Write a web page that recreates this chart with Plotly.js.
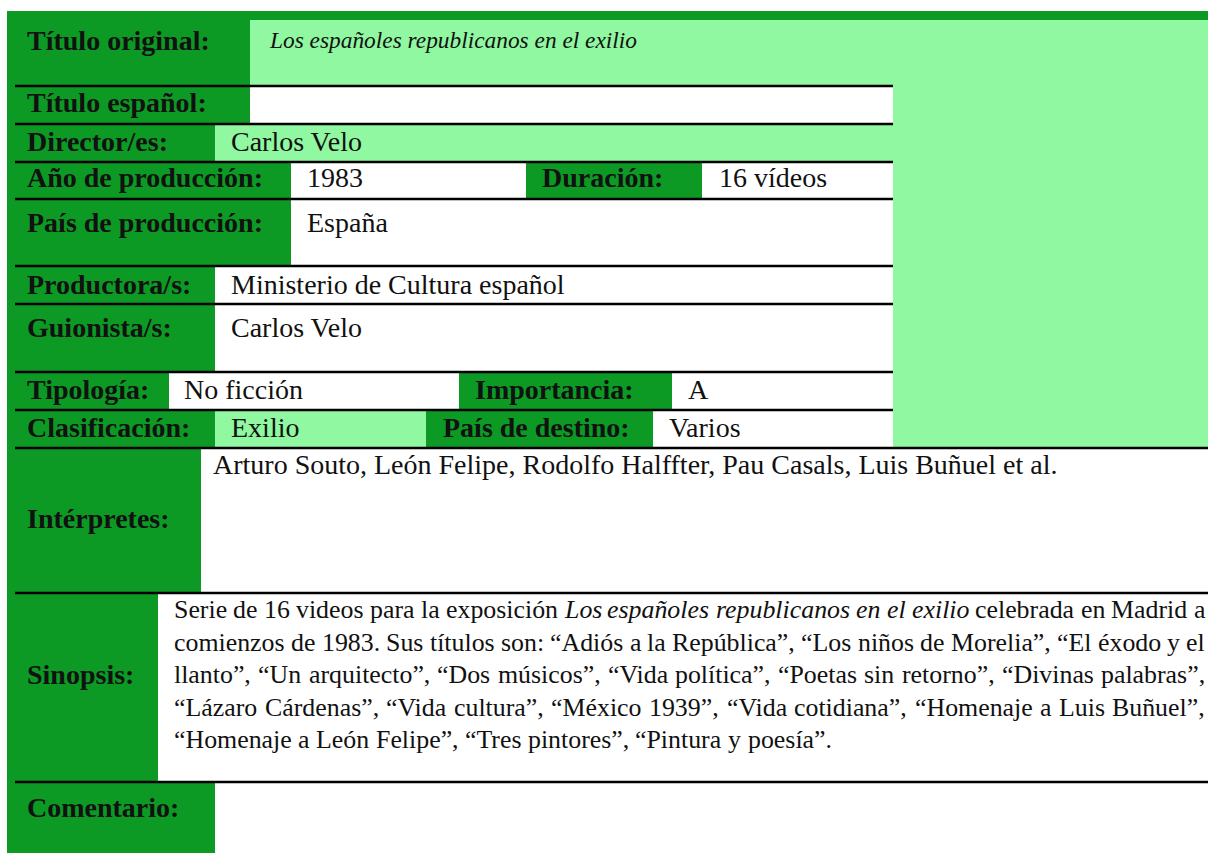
<!DOCTYPE html>
<html>
<head>
<meta charset="utf-8">
<script src="https://cdn.plot.ly/plotly-3.0.1.min.js"></script>
<style>
html, body { margin: 0; padding: 0; background: #ffffff; }
#chart { width: 1208px; height: 853px; }
</style>
</head>
<body>
<div id="chart"></div>
<script>
// ---------------- DATA ----------------
const fieldLabels = [
  'Título original:', 'Título español:', 'Director/es:', 'Año de producción:', 'Duración:',
  'País de producción:', 'Productora/s:', 'Guionista/s:', 'Tipología:', 'Importancia:',
  'Clasificación:', 'País de destino:', 'Intérpretes:', 'Sinopsis:', 'Comentario:'
];
const fieldValues = [
  'Los españoles republicanos en el exilio', '', 'Carlos Velo', '1983', '16 vídeos',
  'España', 'Ministerio de Cultura español', 'Carlos Velo', 'No ficción', 'A',
  'Exilio', 'Varios', 'Arturo Souto, León Felipe, Rodolfo Halffter, Pau Casals, Luis Buñuel et al.', '', ''
];
// synopsis lines as printed; words between _ _ are italic
const synopsisLines = [
  'Serie de 16 videos para la exposición _Los españoles republicanos en el exilio_ celebrada en Madrid a',
  'comienzos de 1983. Sus títulos son: “Adiós a la República”, “Los niños de Morelia”, “El éxodo y el',
  'llanto”, “Un arquitecto”, “Dos músicos”, “Vida política”, “Poetas sin retorno”, “Divinas palabras”,',
  '“Lázaro Cárdenas”, “Vida cultura”, “México 1939”, “Vida cotidiana”, “Homenaje a Luis Buñuel”,',
  '“Homenaje a León Felipe”, “Tres pintores”, “Pintura y poesía”.'
];

// ---------------- LAYOUT GEOMETRY (pixels on the axes) ----------------
const DARK = '#0c9a24', LIGHT = '#8ff8a0', WHITE = '#ffffff', INK = '#111111';
const FONT = 'Liberation Serif';
const W = 1208, H = 853;
// per field: label cell x0/x1, value cell x0/x1, row y0/y1, text y (label, value), text x (label, value), value fill
const cellGeom = [
  {lx0: 7,   lx1: 250, vx0: 250, vx1: 893,  y0: 20,  y1: 86,  ly: 40,    vy: 40,    ltx: 26,  vtx: 268, fill: LIGHT},
  {lx0: 7,   lx1: 250, vx0: 250, vx1: 893,  y0: 86,  y1: 124, ly: 102,   vy: 102,   ltx: 26,  vtx: 265, fill: WHITE},
  {lx0: 7,   lx1: 215, vx0: 215, vx1: 893,  y0: 124, y1: 162, ly: 141,   vy: 141,   ltx: 26,  vtx: 230, fill: LIGHT},
  {lx0: 7,   lx1: 291, vx0: 291, vx1: 526,  y0: 162, y1: 199, ly: 177.5, vy: 177.5, ltx: 26,  vtx: 306, fill: WHITE},
  {lx0: 526, lx1: 702, vx0: 702, vx1: 893,  y0: 162, y1: 199, ly: 177.5, vy: 177.5, ltx: 541, vtx: 718, fill: WHITE},
  {lx0: 7,   lx1: 291, vx0: 291, vx1: 893,  y0: 199, y1: 266, ly: 222,   vy: 222,   ltx: 26,  vtx: 306, fill: WHITE},
  {lx0: 7,   lx1: 215, vx0: 215, vx1: 893,  y0: 266, y1: 304, ly: 284,   vy: 284,   ltx: 26,  vtx: 230, fill: WHITE},
  {lx0: 7,   lx1: 215, vx0: 215, vx1: 893,  y0: 304, y1: 372, ly: 327,   vy: 327,   ltx: 26,  vtx: 230, fill: WHITE},
  {lx0: 7,   lx1: 169, vx0: 169, vx1: 459,  y0: 372, y1: 410, ly: 389,   vy: 389,   ltx: 26,  vtx: 183, fill: WHITE},
  {lx0: 459, lx1: 672, vx0: 672, vx1: 893,  y0: 372, y1: 410, ly: 389,   vy: 389,   ltx: 474, vtx: 687, fill: WHITE},
  {lx0: 7,   lx1: 215, vx0: 215, vx1: 426,  y0: 410, y1: 448, ly: 427.5, vy: 427.5, ltx: 26,  vtx: 230, fill: LIGHT},
  {lx0: 426, lx1: 653, vx0: 653, vx1: 893,  y0: 410, y1: 448, ly: 427.5, vy: 427.5, ltx: 442, vtx: 668, fill: WHITE},
  {lx0: 7,   lx1: 201, vx0: 201, vx1: 1208, y0: 448, y1: 593, ly: 518,   vy: 464,   ltx: 26,  vtx: 212, fill: WHITE},
  {lx0: 7,   lx1: 158, vx0: 158, vx1: 1208, y0: 593, y1: 782, ly: 674,   vy: 0,     ltx: 26,  vtx: 173, fill: WHITE},
  {lx0: 7,   lx1: 215, vx0: 215, vx1: 1208, y0: 782, y1: 853, ly: 807,   vy: 807,   ltx: 26,  vtx: 230, fill: WHITE}
];
const ruleYShort = [86, 124, 162, 199, 266, 304, 372, 410];
const ruleYLong = [448, 593, 782];
const synX0 = 173, synX1 = 1204;
const synY = [609.5, 642, 674.5, 707, 739.5];

// ---------------- TEXT MEASURE ----------------
const ctx = document.createElement('canvas').getContext('2d');
function tw(t, size, italic, bold) {
  ctx.font = (italic ? 'italic ' : 'normal ') + (bold ? 'bold ' : 'normal ') + size + 'px "' + FONT + '"';
  return ctx.measureText(t).width;
}

const shapes = [];
const annotations = [];
function rect(x0, x1, y0, y1, color) {
  shapes.push({type: 'rect', xref: 'x', yref: 'y', x0, x1, y0, y1, fillcolor: color, line: {width: 0}, layer: 'above'});
}
function rule(x0, x1, y) {
  shapes.push({type: 'line', xref: 'x', yref: 'y', x0, x1, y0: y, y1: y, line: {color: '#000000', width: 2.6}, layer: 'above'});
}
function txt(x, y, text, size) {
  annotations.push({x, y, xref: 'x', yref: 'y', text, showarrow: false, xanchor: 'left', yanchor: 'middle',
    borderpad: 0, font: {family: FONT, size, color: INK}});
}

// backgrounds
rect(7, W, 11, 448, DARK);
rect(893, W, 20, 448, LIGHT);
cellGeom.forEach((g, i) => {
  if (i >= 12) rect(g.lx0, g.lx1, g.y0, g.y1, DARK);
  rect(g.vx0, g.vx1, g.y0 + (i === 0 ? 0 : 1), g.y1 - 1, g.fill);
});
rect(7, 15, 448, H, DARK);
ruleYShort.forEach(y => rule(15, 893, y));
ruleYLong.forEach(y => rule(15, W, y));

// labels & values
const MAIN = 28;
fieldLabels.forEach((lab, i) => {
  const g = cellGeom[i];
  txt(g.ltx, g.ly, '<b>' + lab + '</b>', MAIN);
  const v = fieldValues[i];
  if (!v) return;
  if (i === 0) {
    const s = 100 * 367 / tw(v, 100, true, false);
    txt(g.vtx, g.vy, '<i>' + v + '</i>', s);
  } else {
    txt(g.vtx, g.vy, v, MAIN);
  }
});

// synopsis, justified word by word
const lastPlain = synopsisLines[synopsisLines.length - 1].replace(/_/g, '');
const SYN = 100 * 658 / tw(lastPlain, 100, false, false);
synopsisLines.forEach((line, li) => {
  const tokens = [];
  let it = false;
  line.split(' ').forEach(w => {
    let word = w, ital = it;
    if (word.startsWith('_')) { word = word.slice(1); ital = true; it = true; }
    if (word.endsWith('_')) { word = word.slice(0, -1); it = false; }
    tokens.push({w: word, it: ital});
  });
  const widths = tokens.map(t => tw(t.w, SYN, t.it, false));
  const total = widths.reduce((a, b) => a + b, 0);
  const isLast = li === synopsisLines.length - 1;
  const gap = isLast ? tw(' ', SYN, false, false) : (synX1 - synX0 - total) / (tokens.length - 1);
  let x = synX0;
  tokens.forEach((t, j) => {
    txt(x, synY[li], t.it ? '<i>' + t.w + '</i>' : t.w, SYN);
    x += widths[j] + gap;
  });
});

const data = [{x: [0, W], y: [0, H], type: 'scatter', mode: 'markers', marker: {opacity: 0}, hoverinfo: 'skip', showlegend: false}];
const layout = {
  width: W, height: H,
  margin: {l: 0, r: 0, t: 0, b: 0, pad: 0},
  paper_bgcolor: WHITE, plot_bgcolor: WHITE,
  xaxis: {range: [0, W], visible: false, fixedrange: true},
  yaxis: {range: [H, 0], visible: false, fixedrange: true},
  shapes, annotations, showlegend: false
};
Plotly.newPlot('chart', data, layout, {staticPlot: true, displayModeBar: false});
</script>
</body>
</html>
